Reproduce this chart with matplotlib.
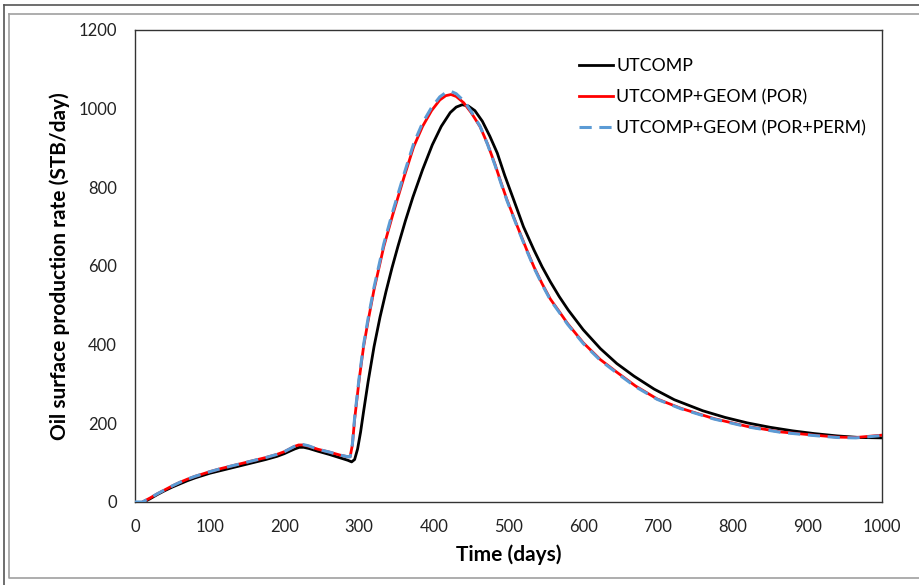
import matplotlib.pyplot as plt
from matplotlib.lines import Line2D

# UTCOMP (black)
t_base = [12, 20, 30, 40, 50, 60, 70, 80, 90, 100, 115, 130, 145, 160, 175, 190,
          200, 208, 214, 220, 226, 233, 245, 260, 275, 285, 290, 294, 298, 302, 306,
          312, 320, 328, 336, 344, 352, 362, 372, 385, 398, 410, 422, 430, 438,
          446, 455, 465, 475, 485, 495, 507, 520, 534, 545, 556, 568, 580, 600,
          623, 645, 668, 695, 722, 760, 790, 820, 850, 880, 909, 940, 970, 1000]
q_base = [0, 8, 19, 29, 38, 46, 54, 61, 67, 73, 80, 87, 94, 101, 108, 116,
          123, 130, 135, 139, 139, 136, 129, 121, 112, 106, 102, 108, 135, 178, 230,
          305, 395, 470, 535, 595, 650, 715, 775, 845, 908, 955, 990, 1004, 1010,
          1007, 995, 968, 930, 887, 830, 768, 700, 641, 598, 560, 522, 488, 438,
          390, 352, 320, 287, 260, 232, 215, 201, 190, 181, 174, 168, 164, 163]

# UTCOMP+GEOM (POR) (red)
t_por = [10, 20, 30, 40, 50, 60, 70, 80, 90, 100, 115, 130, 145, 160, 175, 190,
         200, 207, 213, 219, 225, 232, 245, 260, 275, 285, 288, 291, 294, 300, 306,
         312, 320, 333, 345, 360, 373, 385, 397, 408, 416, 423, 430, 440, 450,
         462, 472, 482, 490, 498, 512, 524, 534, 545, 556, 568, 579, 600, 623,
         645, 670, 699, 731, 775, 820, 865, 909, 940, 965, 1000]
q_por = [0, 10, 21, 31, 41, 50, 58, 65, 71, 77, 85, 92, 99, 106, 113, 121,
         128, 135, 141, 145, 145, 142, 134, 127, 119, 115, 115, 145, 210, 310, 395,
         460, 540, 649, 730, 825, 903, 955, 995, 1022, 1033, 1036, 1031, 1015, 990,
         954, 910, 858, 812, 768, 700, 643, 598, 555, 516, 484, 454, 405, 362,
         330, 295, 262, 238, 212, 192, 178, 170, 165, 164, 170]

# UTCOMP+GEOM (POR+PERM) (blue dashed)
t_perm = [0, 10, 20, 30, 40, 50, 60, 70, 80, 90, 100, 115, 130, 145, 160, 175, 190,
          200, 207, 213, 219, 225, 232, 245, 260, 275, 285, 288, 291, 294, 300, 306,
          312, 320, 333, 345, 360, 373, 385, 397, 408, 416, 423, 430, 440, 450,
          462, 472, 482, 490, 498, 512, 524, 534, 545, 556, 568, 579, 600, 623,
          645, 670, 699, 731, 775, 820, 865, 909, 940, 965, 1000]
q_perm = [0, 0, 10, 21, 31, 41, 50, 58, 65, 71, 77, 85, 92, 99, 106, 113, 121,
          128, 135, 141, 146, 146, 143, 134, 127, 119, 115, 115, 147, 214, 315, 400,
          466, 546, 656, 738, 833, 911, 964, 1003, 1030, 1041, 1044, 1038, 1020, 993,
          955, 909, 856, 810, 766, 698, 641, 596, 553, 514, 482, 452, 403, 360,
          328, 293, 261, 237, 211, 191, 177, 169, 164, 163, 169]

labels = ["UTCOMP", "UTCOMP+GEOM (POR)", "UTCOMP+GEOM (POR+PERM)"]

plt.rcParams['font.family'] = ['Lato', 'DejaVu Sans']

fig = plt.figure(figsize=(9.2, 5.85), dpi=100)

# outer frame lines
fig.add_artist(Line2D([4 / 920, 4 / 920], [0, 1 - 5 / 585], transform=fig.transFigure,
                      color='#555555', lw=1.2))
fig.add_artist(Line2D([4 / 920, 1], [1 - 5 / 585, 1 - 5 / 585], transform=fig.transFigure,
                      color='#555555', lw=1.2))
# inner gray chart-area frame
fig.add_artist(Line2D([9 / 920, 9 / 920, 1], [1 - 14 / 585, 1 - 578 / 585, 1 - 578 / 585],
                      transform=fig.transFigure, color='#a0a0a0', lw=1.2))
fig.add_artist(Line2D([9 / 920, 1], [1 - 14 / 585, 1 - 14 / 585],
                      transform=fig.transFigure, color='#a0a0a0', lw=1.2))

ax = fig.add_axes([135 / 920, 1 - 502 / 585, 747 / 920, 472 / 585])

ax.plot(t_base, q_base, color='black', lw=2.0, label=labels[0], zorder=2)
ax.plot(t_por, q_por, color='#ff0000', lw=2.0, label=labels[1], zorder=3)
ax.plot(t_perm, q_perm, color='#5b9bd5', lw=2.2, dashes=(4, 2.5),
        label=labels[2], zorder=4)

ax.set_xlim(0, 1000)
ax.set_ylim(0, 1200)
ax.set_xticks(range(0, 1001, 100))
ax.set_yticks(range(0, 1201, 200))
ax.tick_params(length=0, labelsize=12, colors='#222222')
ax.tick_params(axis='x', pad=12)
ax.tick_params(axis='y', pad=13)
for s in ax.spines.values():
    s.set_color('#333333')
    s.set_linewidth(1.0)

ax.set_xlabel("Time (days)", fontsize=15, fontweight='bold', labelpad=7)
ax.set_ylabel("Oil surface production rate (STB/day)", fontsize=15,
              fontweight='bold', labelpad=6)

ax.legend(loc='upper right', bbox_to_anchor=(1.0, 0.975), frameon=False,
          fontsize=12.8, handlelength=1.9, handletextpad=0.2, labelspacing=0.85)

fig.savefig("out.png", dpi=100)
